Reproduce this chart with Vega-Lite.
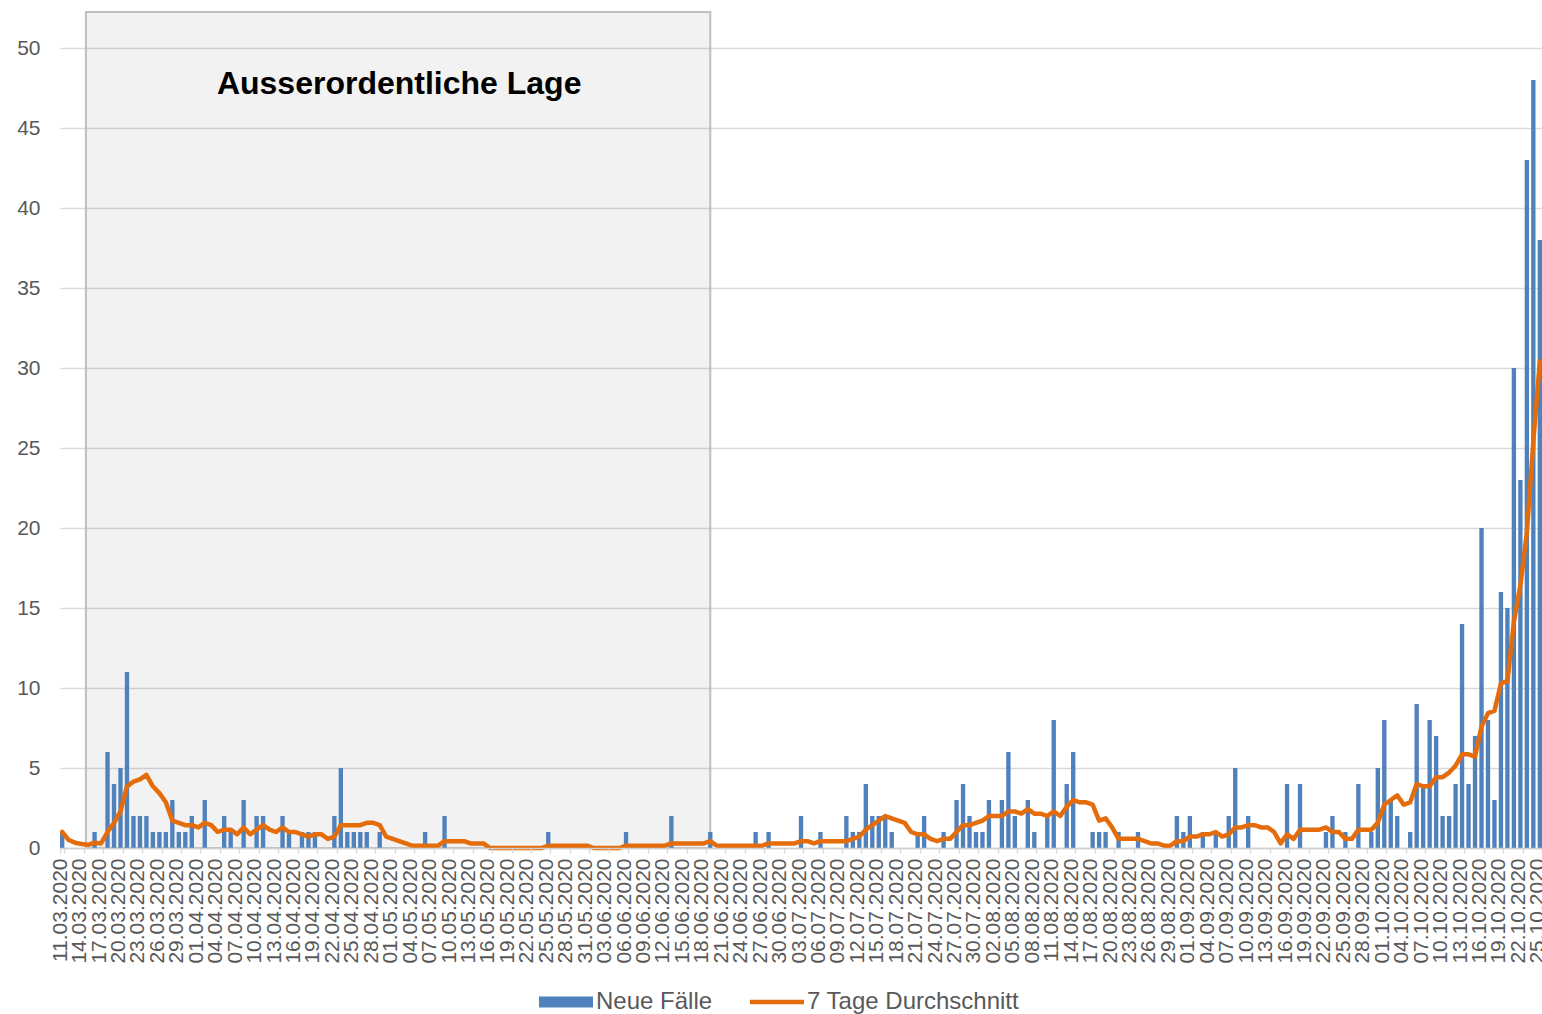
{
  "$schema": "https://vega.github.io/schema/vega-lite/v6.json",
  "width": 1482,
  "height": 836,
  "autosize": {"type": "none"},
  "padding": {"left": 60, "top": 12, "right": 0, "bottom": 166},
  "background": "white",
  "config": {"view": {"stroke": null}, "font": "Liberation Sans"},
  "datasets": {
    "daily": [
      {"d":"11.03.2020","n":1,"a":1},{"d":"12.03.2020","n":0,"a":0.5},{"d":"13.03.2020","n":0,"a":0.333},{"d":"14.03.2020","n":0,"a":0.25},{"d":"15.03.2020","n":0,"a":0.2},{"d":"16.03.2020","n":1,"a":0.333},{"d":"17.03.2020","n":0,"a":0.286},{"d":"18.03.2020","n":6,"a":1},{"d":"19.03.2020","n":4,"a":1.571},{"d":"20.03.2020","n":5,"a":2.286},{"d":"21.03.2020","n":11,"a":3.857},{"d":"22.03.2020","n":2,"a":4.143},{"d":"23.03.2020","n":2,"a":4.286},{"d":"24.03.2020","n":2,"a":4.571},{"d":"25.03.2020","n":1,"a":3.857},{"d":"26.03.2020","n":1,"a":3.429},{"d":"27.03.2020","n":1,"a":2.857},{"d":"28.03.2020","n":3,"a":1.714},{"d":"29.03.2020","n":1,"a":1.571},{"d":"30.03.2020","n":1,"a":1.429},{"d":"31.03.2020","n":2,"a":1.429},
      {"d":"01.04.2020","n":0,"a":1.286},{"d":"02.04.2020","n":3,"a":1.571},{"d":"03.04.2020","n":0,"a":1.429},{"d":"04.04.2020","n":0,"a":1},{"d":"05.04.2020","n":2,"a":1.143},{"d":"06.04.2020","n":1,"a":1.143},{"d":"07.04.2020","n":0,"a":0.857},{"d":"08.04.2020","n":3,"a":1.286},{"d":"09.04.2020","n":0,"a":0.857},{"d":"10.04.2020","n":2,"a":1.143},{"d":"11.04.2020","n":2,"a":1.429},{"d":"12.04.2020","n":0,"a":1.143},{"d":"13.04.2020","n":0,"a":1},{"d":"14.04.2020","n":2,"a":1.286},{"d":"15.04.2020","n":1,"a":1},{"d":"16.04.2020","n":0,"a":1},{"d":"17.04.2020","n":1,"a":0.857},{"d":"18.04.2020","n":1,"a":0.714},{"d":"19.04.2020","n":1,"a":0.857},{"d":"20.04.2020","n":0,"a":0.857},{"d":"21.04.2020","n":0,"a":0.571},{"d":"22.04.2020","n":2,"a":0.714},{"d":"23.04.2020","n":5,"a":1.429},{"d":"24.04.2020","n":1,"a":1.429},{"d":"25.04.2020","n":1,"a":1.429},{"d":"26.04.2020","n":1,"a":1.429},{"d":"27.04.2020","n":1,"a":1.571},{"d":"28.04.2020","n":0,"a":1.571},{"d":"29.04.2020","n":1,"a":1.429},{"d":"30.04.2020","n":0,"a":0.714},
      {"d":"01.05.2020","n":0,"a":0.571},{"d":"02.05.2020","n":0,"a":0.429},{"d":"03.05.2020","n":0,"a":0.286},{"d":"04.05.2020","n":0,"a":0.143},{"d":"05.05.2020","n":0,"a":0.143},{"d":"06.05.2020","n":1,"a":0.143},{"d":"07.05.2020","n":0,"a":0.143},{"d":"08.05.2020","n":0,"a":0.143},{"d":"09.05.2020","n":2,"a":0.429},{"d":"10.05.2020","n":0,"a":0.429},{"d":"11.05.2020","n":0,"a":0.429},{"d":"12.05.2020","n":0,"a":0.429},{"d":"13.05.2020","n":0,"a":0.286},{"d":"14.05.2020","n":0,"a":0.286},{"d":"15.05.2020","n":0,"a":0.286},{"d":"16.05.2020","n":0,"a":0},{"d":"17.05.2020","n":0,"a":0},{"d":"18.05.2020","n":0,"a":0},{"d":"19.05.2020","n":0,"a":0},{"d":"20.05.2020","n":0,"a":0},{"d":"21.05.2020","n":0,"a":0},{"d":"22.05.2020","n":0,"a":0},{"d":"23.05.2020","n":0,"a":0},{"d":"24.05.2020","n":0,"a":0},{"d":"25.05.2020","n":1,"a":0.143},{"d":"26.05.2020","n":0,"a":0.143},{"d":"27.05.2020","n":0,"a":0.143},{"d":"28.05.2020","n":0,"a":0.143},{"d":"29.05.2020","n":0,"a":0.143},{"d":"30.05.2020","n":0,"a":0.143},{"d":"31.05.2020","n":0,"a":0.143},
      {"d":"01.06.2020","n":0,"a":0},{"d":"02.06.2020","n":0,"a":0},{"d":"03.06.2020","n":0,"a":0},{"d":"04.06.2020","n":0,"a":0},{"d":"05.06.2020","n":0,"a":0},{"d":"06.06.2020","n":1,"a":0.143},{"d":"07.06.2020","n":0,"a":0.143},{"d":"08.06.2020","n":0,"a":0.143},{"d":"09.06.2020","n":0,"a":0.143},{"d":"10.06.2020","n":0,"a":0.143},{"d":"11.06.2020","n":0,"a":0.143},{"d":"12.06.2020","n":0,"a":0.143},{"d":"13.06.2020","n":2,"a":0.286},{"d":"14.06.2020","n":0,"a":0.286},{"d":"15.06.2020","n":0,"a":0.286},{"d":"16.06.2020","n":0,"a":0.286},{"d":"17.06.2020","n":0,"a":0.286},{"d":"18.06.2020","n":0,"a":0.286},{"d":"19.06.2020","n":1,"a":0.429},{"d":"20.06.2020","n":0,"a":0.143},{"d":"21.06.2020","n":0,"a":0.143},{"d":"22.06.2020","n":0,"a":0.143},{"d":"23.06.2020","n":0,"a":0.143},{"d":"24.06.2020","n":0,"a":0.143},{"d":"25.06.2020","n":0,"a":0.143},{"d":"26.06.2020","n":1,"a":0.143},{"d":"27.06.2020","n":0,"a":0.143},{"d":"28.06.2020","n":1,"a":0.286},{"d":"29.06.2020","n":0,"a":0.286},{"d":"30.06.2020","n":0,"a":0.286},
      {"d":"01.07.2020","n":0,"a":0.286},{"d":"02.07.2020","n":0,"a":0.286},{"d":"03.07.2020","n":2,"a":0.429},{"d":"04.07.2020","n":0,"a":0.429},{"d":"05.07.2020","n":0,"a":0.286},{"d":"06.07.2020","n":1,"a":0.429},{"d":"07.07.2020","n":0,"a":0.429},{"d":"08.07.2020","n":0,"a":0.429},{"d":"09.07.2020","n":0,"a":0.429},{"d":"10.07.2020","n":2,"a":0.429},{"d":"11.07.2020","n":1,"a":0.571},{"d":"12.07.2020","n":1,"a":0.714},{"d":"13.07.2020","n":4,"a":1.143},{"d":"14.07.2020","n":2,"a":1.429},{"d":"15.07.2020","n":2,"a":1.714},{"d":"16.07.2020","n":2,"a":2},{"d":"17.07.2020","n":1,"a":1.857},{"d":"18.07.2020","n":0,"a":1.714},{"d":"19.07.2020","n":0,"a":1.571},{"d":"20.07.2020","n":0,"a":1},{"d":"21.07.2020","n":1,"a":0.857},{"d":"22.07.2020","n":2,"a":0.857},{"d":"23.07.2020","n":0,"a":0.571},{"d":"24.07.2020","n":0,"a":0.429},{"d":"25.07.2020","n":1,"a":0.571},{"d":"26.07.2020","n":0,"a":0.571},{"d":"27.07.2020","n":3,"a":1},{"d":"28.07.2020","n":4,"a":1.429},{"d":"29.07.2020","n":2,"a":1.429},{"d":"30.07.2020","n":1,"a":1.571},{"d":"31.07.2020","n":1,"a":1.714},
      {"d":"01.08.2020","n":3,"a":2},{"d":"02.08.2020","n":0,"a":2},{"d":"03.08.2020","n":3,"a":2},{"d":"04.08.2020","n":6,"a":2.286},{"d":"05.08.2020","n":2,"a":2.286},{"d":"06.08.2020","n":0,"a":2.143},{"d":"07.08.2020","n":3,"a":2.429},{"d":"08.08.2020","n":1,"a":2.143},{"d":"09.08.2020","n":0,"a":2.143},{"d":"10.08.2020","n":2,"a":2},{"d":"11.08.2020","n":8,"a":2.286},{"d":"12.08.2020","n":0,"a":2},{"d":"13.08.2020","n":4,"a":2.571},{"d":"14.08.2020","n":6,"a":3},{"d":"15.08.2020","n":0,"a":2.857},{"d":"16.08.2020","n":0,"a":2.857},{"d":"17.08.2020","n":1,"a":2.714},{"d":"18.08.2020","n":1,"a":1.714},{"d":"19.08.2020","n":1,"a":1.857},{"d":"20.08.2020","n":0,"a":1.286},{"d":"21.08.2020","n":1,"a":0.571},{"d":"22.08.2020","n":0,"a":0.571},{"d":"23.08.2020","n":0,"a":0.571},{"d":"24.08.2020","n":1,"a":0.571},{"d":"25.08.2020","n":0,"a":0.429},{"d":"26.08.2020","n":0,"a":0.286},{"d":"27.08.2020","n":0,"a":0.286},{"d":"28.08.2020","n":0,"a":0.143},{"d":"29.08.2020","n":0,"a":0.143},{"d":"30.08.2020","n":2,"a":0.429},{"d":"31.08.2020","n":1,"a":0.429},
      {"d":"01.09.2020","n":2,"a":0.714},{"d":"02.09.2020","n":0,"a":0.714},{"d":"03.09.2020","n":1,"a":0.857},{"d":"04.09.2020","n":0,"a":0.857},{"d":"05.09.2020","n":1,"a":1},{"d":"06.09.2020","n":0,"a":0.714},{"d":"07.09.2020","n":2,"a":0.857},{"d":"08.09.2020","n":5,"a":1.286},{"d":"09.09.2020","n":0,"a":1.286},{"d":"10.09.2020","n":2,"a":1.429},{"d":"11.09.2020","n":0,"a":1.429},{"d":"12.09.2020","n":0,"a":1.286},{"d":"13.09.2020","n":0,"a":1.286},{"d":"14.09.2020","n":0,"a":1},{"d":"15.09.2020","n":0,"a":0.286},{"d":"16.09.2020","n":4,"a":0.857},{"d":"17.09.2020","n":0,"a":0.571},{"d":"18.09.2020","n":4,"a":1.143},{"d":"19.09.2020","n":0,"a":1.143},{"d":"20.09.2020","n":0,"a":1.143},{"d":"21.09.2020","n":0,"a":1.143},{"d":"22.09.2020","n":1,"a":1.286},{"d":"23.09.2020","n":2,"a":1},{"d":"24.09.2020","n":0,"a":1},{"d":"25.09.2020","n":1,"a":0.571},{"d":"26.09.2020","n":0,"a":0.571},{"d":"27.09.2020","n":4,"a":1.143},{"d":"28.09.2020","n":0,"a":1.143},{"d":"29.09.2020","n":1,"a":1.143},{"d":"30.09.2020","n":5,"a":1.571},
      {"d":"01.10.2020","n":8,"a":2.714},{"d":"02.10.2020","n":3,"a":3},{"d":"03.10.2020","n":2,"a":3.286},{"d":"04.10.2020","n":0,"a":2.714},{"d":"05.10.2020","n":1,"a":2.857},{"d":"06.10.2020","n":9,"a":4},{"d":"07.10.2020","n":4,"a":3.857},{"d":"08.10.2020","n":8,"a":3.857},{"d":"09.10.2020","n":7,"a":4.429},{"d":"10.10.2020","n":2,"a":4.429},{"d":"11.10.2020","n":2,"a":4.714},{"d":"12.10.2020","n":4,"a":5.143},{"d":"13.10.2020","n":14,"a":5.857},{"d":"14.10.2020","n":4,"a":5.857},{"d":"15.10.2020","n":7,"a":5.714},{"d":"16.10.2020","n":20,"a":7.571},{"d":"17.10.2020","n":8,"a":8.429},{"d":"18.10.2020","n":3,"a":8.571},{"d":"19.10.2020","n":16,"a":10.286},{"d":"20.10.2020","n":15,"a":10.429},{"d":"21.10.2020","n":30,"a":14.143},{"d":"22.10.2020","n":23,"a":16.429},{"d":"23.10.2020","n":43,"a":19.714},{"d":"24.10.2020","n":48,"a":25.429},{"d":"25.10.2020","n":38,"a":30.429}
    ],
    "phase": [
      {"label": "Ausserordentliche Lage", "from": "15.03.2020", "to": "19.06.2020"}
    ]
  },
  "encoding": {
    "x": {
      "field": "d",
      "type": "ordinal",
      "sort": null,
      "title": null,
      "scale": {
        "paddingInner": 0.33,
        "paddingOuter": 0,
        "domain": ["11.03.2020","12.03.2020","13.03.2020","14.03.2020","15.03.2020","16.03.2020","17.03.2020","18.03.2020","19.03.2020","20.03.2020","21.03.2020","22.03.2020","23.03.2020","24.03.2020","25.03.2020","26.03.2020","27.03.2020","28.03.2020","29.03.2020","30.03.2020","31.03.2020","01.04.2020","02.04.2020","03.04.2020","04.04.2020","05.04.2020","06.04.2020","07.04.2020","08.04.2020","09.04.2020","10.04.2020","11.04.2020","12.04.2020","13.04.2020","14.04.2020","15.04.2020","16.04.2020","17.04.2020","18.04.2020","19.04.2020","20.04.2020","21.04.2020","22.04.2020","23.04.2020","24.04.2020","25.04.2020","26.04.2020","27.04.2020","28.04.2020","29.04.2020","30.04.2020","01.05.2020","02.05.2020","03.05.2020","04.05.2020","05.05.2020","06.05.2020","07.05.2020","08.05.2020","09.05.2020","10.05.2020","11.05.2020","12.05.2020","13.05.2020","14.05.2020","15.05.2020","16.05.2020","17.05.2020","18.05.2020","19.05.2020","20.05.2020","21.05.2020","22.05.2020","23.05.2020","24.05.2020","25.05.2020","26.05.2020","27.05.2020","28.05.2020","29.05.2020","30.05.2020","31.05.2020","01.06.2020","02.06.2020","03.06.2020","04.06.2020","05.06.2020","06.06.2020","07.06.2020","08.06.2020","09.06.2020","10.06.2020","11.06.2020","12.06.2020","13.06.2020","14.06.2020","15.06.2020","16.06.2020","17.06.2020","18.06.2020","19.06.2020","20.06.2020","21.06.2020","22.06.2020","23.06.2020","24.06.2020","25.06.2020","26.06.2020","27.06.2020","28.06.2020","29.06.2020","30.06.2020","01.07.2020","02.07.2020","03.07.2020","04.07.2020","05.07.2020","06.07.2020","07.07.2020","08.07.2020","09.07.2020","10.07.2020","11.07.2020","12.07.2020","13.07.2020","14.07.2020","15.07.2020","16.07.2020","17.07.2020","18.07.2020","19.07.2020","20.07.2020","21.07.2020","22.07.2020","23.07.2020","24.07.2020","25.07.2020","26.07.2020","27.07.2020","28.07.2020","29.07.2020","30.07.2020","31.07.2020","01.08.2020","02.08.2020","03.08.2020","04.08.2020","05.08.2020","06.08.2020","07.08.2020","08.08.2020","09.08.2020","10.08.2020","11.08.2020","12.08.2020","13.08.2020","14.08.2020","15.08.2020","16.08.2020","17.08.2020","18.08.2020","19.08.2020","20.08.2020","21.08.2020","22.08.2020","23.08.2020","24.08.2020","25.08.2020","26.08.2020","27.08.2020","28.08.2020","29.08.2020","30.08.2020","31.08.2020","01.09.2020","02.09.2020","03.09.2020","04.09.2020","05.09.2020","06.09.2020","07.09.2020","08.09.2020","09.09.2020","10.09.2020","11.09.2020","12.09.2020","13.09.2020","14.09.2020","15.09.2020","16.09.2020","17.09.2020","18.09.2020","19.09.2020","20.09.2020","21.09.2020","22.09.2020","23.09.2020","24.09.2020","25.09.2020","26.09.2020","27.09.2020","28.09.2020","29.09.2020","30.09.2020","01.10.2020","02.10.2020","03.10.2020","04.10.2020","05.10.2020","06.10.2020","07.10.2020","08.10.2020","09.10.2020","10.10.2020","11.10.2020","12.10.2020","13.10.2020","14.10.2020","15.10.2020","16.10.2020","17.10.2020","18.10.2020","19.10.2020","20.10.2020","21.10.2020","22.10.2020","23.10.2020","24.10.2020","25.10.2020"]
      },
      "axis": {
        "values": ["11.03.2020","14.03.2020","17.03.2020","20.03.2020","23.03.2020","26.03.2020","29.03.2020","01.04.2020","04.04.2020","07.04.2020","10.04.2020","13.04.2020","16.04.2020","19.04.2020","22.04.2020","25.04.2020","28.04.2020","01.05.2020","04.05.2020","07.05.2020","10.05.2020","13.05.2020","16.05.2020","19.05.2020","22.05.2020","25.05.2020","28.05.2020","31.05.2020","03.06.2020","06.06.2020","09.06.2020","12.06.2020","15.06.2020","18.06.2020","21.06.2020","24.06.2020","27.06.2020","30.06.2020","03.07.2020","06.07.2020","09.07.2020","12.07.2020","15.07.2020","18.07.2020","21.07.2020","24.07.2020","27.07.2020","30.07.2020","02.08.2020","05.08.2020","08.08.2020","11.08.2020","14.08.2020","17.08.2020","20.08.2020","23.08.2020","26.08.2020","29.08.2020","01.09.2020","04.09.2020","07.09.2020","10.09.2020","13.09.2020","16.09.2020","19.09.2020","22.09.2020","25.09.2020","28.09.2020","01.10.2020","04.10.2020","07.10.2020","10.10.2020","13.10.2020","16.10.2020","19.10.2020","22.10.2020","25.10.2020"],
        "labelAngle": 270,
        "labelFontSize": 21,
        "labelColor": "#595959",
        "labelPadding": 5,
        "labelOffset": -2,
        "labelOverlap": false,
        "labelBound": false,
        "tickBand": "extent",
        "tickSize": 5,
        "tickColor": "#d9d9d9",
        "tickWidth": 1.3,
        "domainColor": "#d0d0d0",
        "domainWidth": 1.3,
        "grid": false
      }
    },
    "y": {
      "type": "quantitative",
      "scale": {"domain": [0, 52.25], "nice": false, "zero": true},
      "axis": {
        "title": null,
        "values": [0,5,10,15,20,25,30,35,40,45,50],
        "grid": true,
        "gridColor": "#d9d9d9",
        "gridWidth": 1.3,
        "domain": false,
        "ticks": false,
        "labelFontSize": 21,
        "labelColor": "#595959",
        "labelPadding": 20
      }
    }
  },
  "layer": [
    {
      "data": {"name": "phase"},
      "mark": {"type": "rect", "fill": "black", "fillOpacity": 0.051, "stroke": "#bfbfbf", "strokeWidth": 2},
      "encoding": {
        "x": {"field": "from", "type": "ordinal", "bandPosition": 0},
        "x2": {"field": "to", "bandPosition": 0.5},
        "y": {"datum": 0},
        "y2": {"datum": 52.25}
      }
    },
    {
      "data": {"name": "phase"},
      "mark": {"type": "text", "fontSize": 32, "fontWeight": "bold", "color": "black", "align": "center", "baseline": "middle"},
      "encoding": {
        "x": {"datum": "02.05.2020", "type": "ordinal"},
        "y": {"datum": 47.75},
        "text": {"field": "label"}
      }
    },
    {
      "data": {"name": "daily"},
      "mark": {"type": "bar", "width": {"band": 1}},
      "encoding": {
        "y": {"field": "n", "type": "quantitative"},
        "color": {
          "datum": "Neue Fälle",
          "type": "nominal",
          "scale": {"domain": ["Neue Fälle", "7 Tage Durchschnitt"], "range": ["#4f81bd", "#e46c0a"]},
          "legend": {
            "orient": "none",
            "legendX": 494,
            "legendY": 978,
            "direction": "horizontal",
            "title": null,
            "padding": 0,
            "labelFontSize": 24,
            "labelColor": "#595959",
            "labelOffset": 18,
            "labelLimit": 400,
            "columnPadding": 28,
            "symbolSize": 2916,
            "symbolStrokeWidth": 4.5,
            "symbolOpacity": 1,
            "encode": {
              "symbols": {
                "update": {
                  "shape": {"signal": "datum.value === 'Neue Fälle' ? 'M-1,-0.2H1V0.2H-1Z' : 'M-1,0H1'"},
                  "fill": {"signal": "datum.value === 'Neue Fälle' ? '#4f81bd' : 'transparent'"},
                  "stroke": {"signal": "datum.value === 'Neue Fälle' ? 'transparent' : '#e46c0a'"},
                  "strokeWidth": {"signal": "datum.value === 'Neue Fälle' ? 0 : 4.5"},
                  "opacity": {"value": 1}
                }
              }
            }
          }
        }
      }
    },
    {
      "data": {"name": "daily"},
      "mark": {"type": "line", "strokeWidth": 4.5, "strokeJoin": "round", "strokeCap": "round"},
      "encoding": {
        "y": {"field": "a", "type": "quantitative"},
        "color": {"datum": "7 Tage Durchschnitt", "type": "nominal"}
      }
    }
  ]
}
